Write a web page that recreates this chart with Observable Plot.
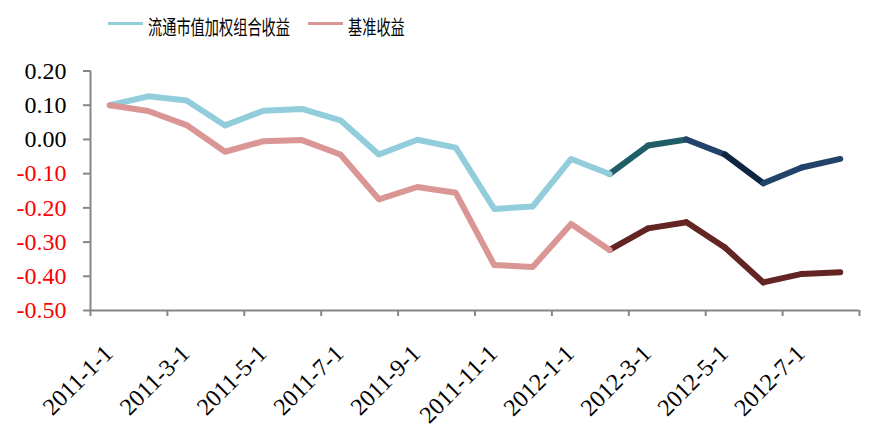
<!DOCTYPE html>
<html>
<head>
<meta charset="utf-8">
<script src="https://cdn.jsdelivr.net/npm/d3@7"></script>
<script src="https://cdn.jsdelivr.net/npm/@observablehq/plot@0.6"></script>
<style>
  body { margin: 0; background: #fff; }
  #legend { position: relative; width: 870px; height: 50px; }
  .sw { position: absolute; top: 22px; width: 35px; height: 3px; }
  .lt { position: absolute; top: 15px; font-family: "Noto Sans CJK SC", sans-serif; font-size: 20px; line-height: 24px;
        transform: scaleX(0.71); transform-origin: left center; white-space: nowrap; color: #000; }
</style>
</head>
<body>
<div id="legend"></div>
<div id="chart"></div>
<script>
const dates = ["2011-1-1","2011-2-1","2011-3-1","2011-4-1","2011-5-1","2011-6-1","2011-7-1","2011-8-1","2011-9-1","2011-10-1",
               "2011-11-1","2011-12-1","2012-1-1","2012-2-1","2012-3-1","2012-4-1","2012-5-1","2012-6-1","2012-7-1","2012-8-1"];
const portfolio = [0.100, 0.126, 0.114, 0.041, 0.084, 0.089, 0.056, -0.044, -0.001, -0.024,
                   -0.203, -0.196, -0.057, -0.101, -0.018, 0.000, -0.044, -0.128, -0.082, -0.057];
const benchmark = [0.100, 0.083, 0.042, -0.036, -0.005, -0.002, -0.044, -0.175, -0.139, -0.156,
                   -0.367, -0.373, -0.247, -0.323, -0.260, -0.242, -0.316, -0.418, -0.393, -0.388];
const seriesNames = ["流通市值加权组合收益", "基准收益"];
const lightColors = ["#92cddc", "#d99694"];
const splitIndex = 13;
const portfolioDarkColors = ["#1f5d67", "#1f5d67", "#22436a", "#0e2541", "#22436a", "#22436a"];
const benchmarkDarkColor = "#632523";
const yTicks = [0.2, 0.1, 0, -0.1, -0.2, -0.3, -0.4, -0.5];
const xTickPositions = [-0.5, 1.5, 3.5, 5.5, 7.5, 9.5, 11.5, 13.5, 15.5, 17.5, 19.5];
const xLabelIndex = [0, 2, 4, 6, 8, 10, 12, 14, 16, 18];

// legend
const legend = document.getElementById("legend");
const legendPos = [[108, 148], [308, 348]];
seriesNames.forEach((name, k) => {
  const sw = document.createElement("div");
  sw.className = "sw"; sw.style.left = legendPos[k][0] + "px"; sw.style.background = lightColors[k];
  const t = document.createElement("div");
  t.className = "lt"; t.style.left = legendPos[k][1] + "px"; t.textContent = name;
  legend.appendChild(sw); legend.appendChild(t);
});

const idx = dates.map((d, i) => i);
const rows = idx.map(i => ({i, p: portfolio[i], b: benchmark[i]}));
const segs = (vals, colors) => idx.slice(splitIndex, idx.length - 1).map((i, k) => ({
  x1: i, y1: vals[i], x2: i + 1, y2: vals[i + 1], c: typeof colors === "string" ? colors : colors[k]
}));
const fmt = v => v.toFixed(2);
const axisGray = "#868686";
const font = "'Liberation Serif', 'Times New Roman', serif";

const chart = Plot.plot({
  width: 870, height: 394,
  marginLeft: 90, marginRight: 11, marginTop: 20.5, marginBottom: 134,
  x: {type: "linear", domain: [-0.5, 19.5], axis: null},
  y: {domain: [-0.5, 0.2], axis: null},
  color: {type: "identity"},
  style: {fontFamily: font, fontSize: "24px", background: "#fff", overflow: "visible"},
  marks: [
    Plot.ruleY([-0.5], {x1: -0.5, x2: 19.5, stroke: axisGray, strokeWidth: 2}),
    Plot.ruleX([-0.5], {y1: -0.5, y2: 0.2, stroke: axisGray, strokeWidth: 2}),
    Plot.axisY({ticks: yTicks.filter(v => v >= 0), tickSize: 7, tickPadding: 17, tickFormat: fmt,
                stroke: axisGray, strokeWidth: 2, fill: "#000", fontSize: 24, label: null}),
    Plot.axisY({ticks: yTicks.filter(v => v < 0), tickSize: 7, tickPadding: 17, tickFormat: fmt,
                stroke: axisGray, strokeWidth: 2, fill: "#ff0000", fontSize: 24, label: null}),
    Plot.axisX({ticks: xTickPositions, tickSize: 6, tickFormat: () => "", stroke: axisGray, strokeWidth: 2, label: null}),
    Plot.text(xLabelIndex, {x: d => d, y: () => -0.5, text: d => dates[d], rotate: -45,
                            textAnchor: "end", lineAnchor: "middle", dx: -1, dy: 39, fontSize: 24, fill: "#000"}),
    Plot.link(segs(portfolio, portfolioDarkColors), {x1: "x1", y1: "y1", x2: "x2", y2: "y2", stroke: "c",
                            strokeWidth: 6, strokeLinecap: "round"}),
    Plot.line(rows.slice(0, splitIndex + 1), {x: "i", y: "p", stroke: lightColors[0], strokeWidth: 6,
                            strokeLinejoin: "round", strokeLinecap: "round"}),
    Plot.link(segs(benchmark, benchmarkDarkColor), {x1: "x1", y1: "y1", x2: "x2", y2: "y2", stroke: "c",
                            strokeWidth: 6, strokeLinecap: "round"}),
    Plot.line(rows.slice(0, splitIndex + 1), {x: "i", y: "b", stroke: lightColors[1], strokeWidth: 6,
                            strokeLinejoin: "round", strokeLinecap: "round"})
  ]
});
document.getElementById("chart").appendChild(chart);
</script>
</body>
</html>
